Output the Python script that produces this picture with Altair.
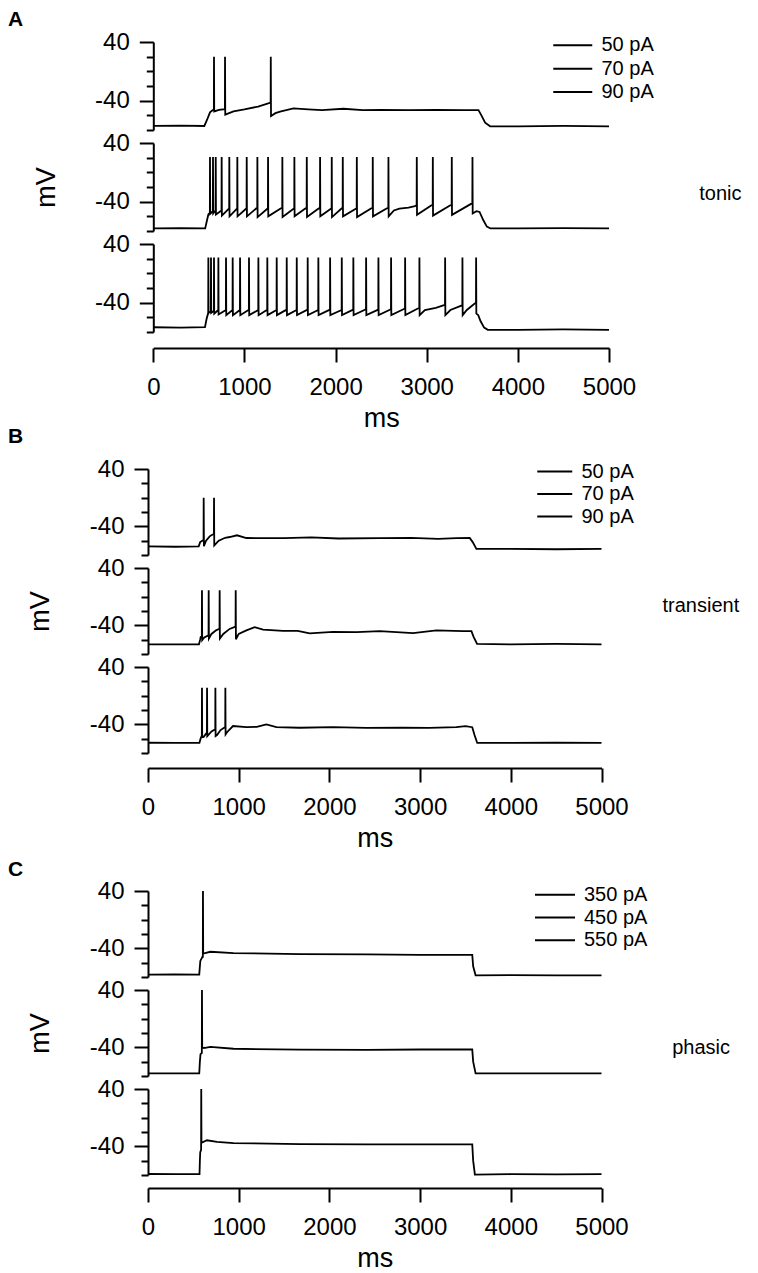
import altair as alt
import pandas as pd

FONT = "Liberation Sans"
XTICKS = [0, 1000, 2000, 3000, 4000, 5000]
Y_MAJOR = [40, -40]
Y_MINOR = [20, 0, -20, -60, -80]
LEG_AB = ["50 pA", "70 pA", "90 pA"]
LEG_C = ["350 pA", "450 pA", "550 pA"]
LETTERS = ["A", "B", "C"]
TYPES = ["tonic", "transient", "phasic"]

# ---------------- A (tonic) ----------------
A1_env_t = [0, 300, 560, 590, 622, 650, 720, 880, 1000, 1150, 1340, 1391, 1537, 1700, 1850, 2085,
            2300, 2500, 2800, 3100, 3400, 3568, 3600, 3641, 3696, 4000, 4500, 5000]
A1_env_v = [-74.5, -74, -74.5, -66, -56, -53, -52.5, -54.5, -52, -48, -57, -55, -50.6, -52, -53, -51,
            -53, -52.5, -53, -52.5, -53, -52.8, -60, -70, -75, -75, -74.5, -75]
A1_spk_t = [666, 787, 1289]
A1_spk_thr = [-52, -51.5, -42.5]
A1_spk_tr = [-54.7, -59, -61]
A1_peak = 20

A2_env_t = [0, 300, 569, 590, 604, 2640, 2700, 2800, 2870, 3545, 3580, 3620, 3660, 3700, 4000, 4500, 5000]
A2_env_v = [-76.5, -76, -76.5, -65, -57.5, -52, -49.5, -48, -46, -53, -54, -65, -74, -76.5, -76.5, -76, -76.5]
A2_spk_t = [622, 655, 685, 750, 834, 922, 1025, 1142, 1259, 1416, 1548, 1684, 1830, 1958, 2079, 2233,
            2408, 2580, 2891, 3067, 3275, 3502]
A2_spk_thr = [-55, -53, -52, -52, -49, -49, -49, -48, -49, -48, -49, -48, -48, -49, -48, -49,
              -48, -48, -45, -44, -44, -42]
A2_spk_tr = [-56.5, -56, -57.5, -59, -60, -60, -60, -61, -60, -61, -60, -61, -60, -61, -60, -61,
             -60, -60, -58, -59, -58, -56]
A2_peak = 21

A3_env_t = [0, 300, 567, 585, 600, 2980, 3100, 3190, 3260, 3380, 3440, 3530, 3565, 3590, 3630, 3670,
            4000, 4500, 5000]
A3_env_v = [-73.5, -74, -73.5, -62, -55, -50, -47, -43.5, -50, -44, -50, -41, -57, -65, -74, -77,
            -77, -76.5, -77]
A3_spk_t = [604, 633, 666, 714, 798, 871, 952, 1050, 1153, 1251, 1354, 1464, 1574, 1694, 1811, 1940,
            2068, 2195, 2335, 2470, 2609, 2763, 2920, 3202, 3392, 3542]
A3_spk_thr = [-55, -52, -51, -50, -50, -50, -50, -49.5, -50, -49.5, -50, -49.5, -50, -49.5, -50, -49.5,
              -50, -49.5, -49, -49.5, -49, -48, -47, -43, -43, -40.5]
A3_spk_tr = [-54, -54, -55, -56, -57, -57, -57, -57, -57, -57, -57, -57, -57, -57, -57, -57,
             -57, -57, -57, -57, -57, -57, -57, -57, -57, -55]
A3_peak = 21.5

# ---------------- B (transient) ----------------
B1_env_t = [0, 300, 559, 575, 600, 640, 680, 780, 850, 901, 981, 1085, 1305, 1500, 1800, 2100, 2555,
            2900, 3200, 3400, 3547, 3580, 3621, 4000, 4500, 5000]
B1_env_v = [-68, -68.5, -68, -62, -60, -60, -54, -60, -56, -54.9, -52.5, -56.3, -56.5, -56.5, -55.5, -57,
            -56.5, -56, -57.5, -56.5, -56.3, -62, -71.5, -71.5, -72, -71.5]
B1_spk_t = [614, 728]
B1_spk_thr = [-60, -50.2]
B1_spk_tr = [-67.7, -66.7]
B1_peak = 0

B2_env_t = [0, 300, 562, 575, 581, 620, 650, 700, 750, 830, 900, 1000, 1085, 1176, 1268, 1488, 1650,
            1783, 2040, 2300, 2555, 2922, 3180, 3474, 3566, 3590, 3628, 4000, 4500, 5000]
B2_env_v = [-66.5, -66.5, -66.5, -60, -56.2, -57, -55, -52, -47, -52, -45, -52, -47, -42.6, -46, -47.6,
            -47.6, -51.2, -49, -49.5, -48, -50.8, -47, -48, -48, -56, -66, -66.5, -66, -66.5]
B2_spk_t = [595, 669, 790, 967]
B2_spk_thr = [-55, -54, -44.8, -41.7]
B2_spk_tr = [-60.7, -58.4, -58.4, -59.4]
B2_peak = 9

B3_env_t = [0, 300, 567, 580, 590, 614, 640, 700, 761, 800, 871, 937, 1085, 1200, 1305, 1416, 1673,
            2040, 2408, 2800, 3100, 3400, 3500, 3575, 3600, 3630, 4000, 4500, 5000]
B3_env_v = [-65.7, -66, -65.7, -60, -57, -57.5, -53, -50, -55, -48, -51, -42.4, -43.8, -43.5, -40, -43.8,
            -44.8, -43.8, -45, -44.5, -45, -44, -42.5, -44, -55, -66, -66, -65.7, -66]
B3_spk_t = [595, 651, 743, 853]
B3_spk_thr = [-56.4, -51.7, -47, -43.8]
B3_spk_tr = [-57.8, -56.4, -56.4, -54]
B3_peak = 11

# ---------------- C (phasic) ----------------
C1_env_t = [0, 300, 565, 572, 577, 600, 620, 687, 943, 1677, 2412, 3000, 3575, 3585, 3612, 4000, 4500, 5000]
C1_env_v = [-76.7, -76.5, -76.7, -65, -57.6, -52, -47.1, -44.8, -46.7, -48.1, -48.5, -49, -49, -65,
            -77.6, -77.5, -77.6, -77.6]
C1_spk_t = [606]
C1_spk_thr = [-52]
C1_spk_tr = [-47]
C1_peak = 40

C2_env_t = [0, 300, 565, 572, 579, 631, 687, 943, 1677, 2412, 3000, 3575, 3585, 3612, 4000, 4500, 5000]
C2_env_v = [-76.4, -76.4, -76.4, -60, -49.5, -40.6, -39.3, -42, -43.3, -43.5, -43, -42.8, -60, -76.4,
            -76.4, -76.2, -76.4]
C2_spk_t = [595]
C2_spk_thr = [-48]
C2_spk_tr = [-41]
C2_peak = 40

C3_env_t = [0, 300, 568, 572, 576, 650, 760, 943, 1677, 2412, 3146, 3575, 3585, 3604, 4000, 4500, 5000]
C3_env_v = [-78.6, -78.8, -78.6, -60, -48, -31.5, -33.9, -35.4, -36.8, -37.3, -37.3, -37.3, -60, -79.5,
            -78.9, -79, -78.9]
C3_spk_t = [587]
C3_spk_thr = [-45]
C3_spk_tr = [-35]
C3_peak = 40


def make_df(env_t, env_v, spk_t, spk_thr, spk_tr, peak, label):
    rows = list(zip(env_t, env_v))
    for t, a, b in zip(spk_t, spk_thr, spk_tr):
        rows += [(t - 1.5, a), (t, peak), (t + 2.5, b)]
    rows.sort()
    df = pd.DataFrame(rows, columns=["t", "v"])
    df["s"] = label
    return df


NEG = "datum.value < 0 ? '-' + (-datum.value) : '' + datum.value"
LINE_SYMBOL = "M-1,0H3"


def sub(df, w, h, xr, yoff, legend=None, right=None, ytitle=False, xoff=None):
    xs = alt.Scale(domain=[0, 5000], range=xr, nice=False, zero=False)
    ys = alt.Scale(domain=[-80, 40], nice=False, zero=False)
    if xoff is not None:
        xaxis = alt.Axis(values=XTICKS, format="d", title="ms", tickSize=14, offset=xoff,
                         labelFlush=False, labelOverlap=False, labelPadding=13, titlePadding=6)
    else:
        xaxis = None
    ymaj = alt.Axis(values=Y_MAJOR, tickSize=14, labelPadding=10, offset=yoff, labelExpr=NEG,
                    title="mV" if ytitle else None, titlePadding=34.5)
    ymin = alt.Axis(values=Y_MINOR, tickSize=7, labels=False, domain=False, title=None,
                    orient="left", offset=yoff)
    if legend is not None:
        labels, lx, ly, ln, rp = legend
        half = ln / 2.0
        color = alt.Color("s:N", scale=alt.Scale(domain=labels, range=["black"] * 3),
                          legend=alt.Legend(title=None, orient="none", legendX=lx, legendY=ly,
                                            symbolType=LINE_SYMBOL, symbolSize=half * half,
                                            symbolStrokeWidth=2, symbolFillColor="transparent",
                                            labelFontSize=20, labelFont=FONT,
                                            labelColor="black", labelOffset=half + 8, rowPadding=rp,
                                            padding=0))
    else:
        color = alt.value("black")
    base = alt.Chart(df)
    l1 = base.mark_line(strokeWidth=1.8).encode(
        x=alt.X("t:Q", scale=xs, axis=xaxis),
        y=alt.Y("v:Q", scale=ys, axis=ymaj),
        color=color,
    )
    l2 = base.mark_line(opacity=0).encode(
        x=alt.X("t:Q", scale=xs, axis=xaxis),
        y=alt.Y("v:Q", scale=ys, axis=ymin),
    )
    props = dict(width=w, height=h)
    if right is not None:
        txt, off, dy = right
        props["title"] = alt.TitleParams(text=txt, orient="right", angle=0, anchor="middle",
                                         frame="group", align="left", baseline="middle",
                                         offset=off, dy=dy, fontSize=20, fontWeight="normal",
                                         font=FONT, color="black")
    return alt.layer(l1, l2).resolve_axis(y="independent").properties(**props)


def spacer(h, letter, off):
    d = pd.DataFrame({"t": [0]})
    return alt.Chart(d).mark_point(opacity=0).encode(
        x=alt.X("t:Q", axis=None), y=alt.Y("t:Q", axis=None)
    ).properties(
        width=10, height=h,
        title=alt.TitleParams(text=letter, orient="bottom", anchor="start", frame="group",
                              dx=-140, offset=off, fontSize=21, fontWeight="bold", font=FONT,
                              color="black", baseline="alphabetic")
    )


A1 = make_df(A1_env_t, A1_env_v, A1_spk_t, A1_spk_thr, A1_spk_tr, A1_peak, LEG_AB[0])
A2 = make_df(A2_env_t, A2_env_v, A2_spk_t, A2_spk_thr, A2_spk_tr, A2_peak, LEG_AB[1])
A3 = make_df(A3_env_t, A3_env_v, A3_spk_t, A3_spk_thr, A3_spk_tr, A3_peak, LEG_AB[2])
B1 = make_df(B1_env_t, B1_env_v, B1_spk_t, B1_spk_thr, B1_spk_tr, B1_peak, LEG_AB[0])
B2 = make_df(B2_env_t, B2_env_v, B2_spk_t, B2_spk_thr, B2_spk_tr, B2_peak, LEG_AB[1])
B3 = make_df(B3_env_t, B3_env_v, B3_spk_t, B3_spk_thr, B3_spk_tr, B3_peak, LEG_AB[2])
C1 = make_df(C1_env_t, C1_env_v, C1_spk_t, C1_spk_thr, C1_spk_tr, C1_peak, LEG_C[0])
C2 = make_df(C2_env_t, C2_env_v, C2_spk_t, C2_spk_thr, C2_spk_tr, C2_peak, LEG_C[1])
C3 = make_df(C3_env_t, C3_env_v, C3_spk_t, C3_spk_thr, C3_spk_tr, C3_peak, LEG_C[2])

WA, HA, XRA, YOA = 461, 88, [5.3, 461], -5.3
WB, HB, XRB, YOB = 453.5, 86, [0, 453.5], 0

charts = [
    spacer(20, LETTERS[0], -3.5),
    sub(A1, WA, HA, XRA, YOA, legend=(LEG_AB, 404, -7.75, 39, 2.4)),
    sub(A2, WA, HA, XRA, YOA, right=(TYPES[0], 44.4, 7), ytitle=True),
    sub(A3, WA, HA, XRA, YOA, xoff=16),
    spacer(111, LETTERS[1], -13),
    sub(B1, WB, HB, XRB, YOB, legend=(LEG_AB, 388, -7.45, 35, 2.5)),
    sub(B2, WB, HB, XRB, YOB, right=(TYPES[1], -19.3, -5), ytitle=True),
    sub(B3, WB, HB, XRB, YOB, xoff=15),
    spacer(112, LETTERS[2], -2),
    sub(C1, WB, HB, XRB, YOB, legend=(LEG_C, 386, -7.3, 40, 1.8)),
    sub(C2, WB, HB, XRB, YOB, right=(TYPES[2], 9.3, 15), ytitle=True),
    sub(C3, WB, HB, XRB, YOB, xoff=13),
]

chart = alt.vconcat(*charts, spacing=13, bounds="flush").resolve_scale(
    x="independent", y="independent", color="independent"
).resolve_legend(color="independent").properties(
    padding={"left": 0, "top": 0, "right": 0, "bottom": 0}
).configure_view(stroke=None).configure_axis(
    labelFont=FONT, titleFont=FONT, labelFontSize=24, titleFontSize=27, titleFontWeight="normal",
    labelColor="black", titleColor="black", domainColor="black", tickColor="black",
    domainWidth=2, tickWidth=2, grid=False
)

chart.save("out.html", embed_options={"renderer": "svg", "actions": False})
